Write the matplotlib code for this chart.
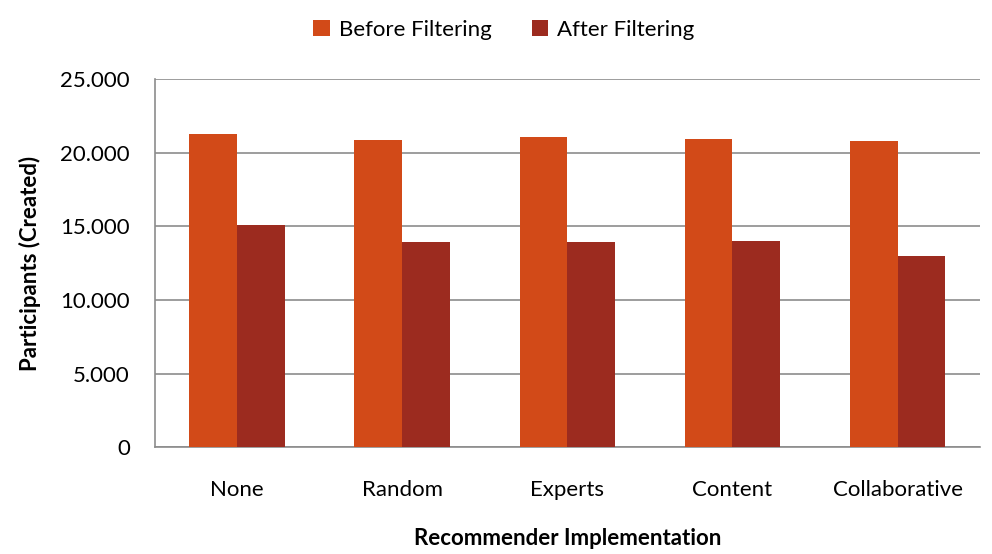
import matplotlib
matplotlib.use("Agg")
import matplotlib.pyplot as plt
from matplotlib.ticker import FuncFormatter
import numpy as np

categories = ["None", "Random", "Experts", "Content", "Collaborative"]
before = [21250, 20850, 21050, 20960, 20800]
after = [15120, 13970, 13970, 14030, 12970]
series_names = ["Before Filtering", "After Filtering"]

plt.rcParams['font.family'] = ['Lato', 'DejaVu Sans']

fig = plt.figure(figsize=(9.92, 5.54), dpi=100)
ax = fig.add_axes([0.156, 0.193, 0.832, 0.664])

x = np.arange(len(categories))
w = 0.29
c1 = "#D24A18"
c2 = "#9C2B1F"
ax.bar(x - w/2, before, w, color=c1, label=series_names[0], zorder=3)
ax.bar(x + w/2, after, w, color=c2, label=series_names[1], zorder=3)

ax.set_xlim(-0.5, len(categories) - 0.5)
ax.set_ylim(0, 25000)
ax.set_yticks(np.arange(0, 25001, 5000))
ax.yaxis.set_major_formatter(FuncFormatter(lambda v, p: f"{int(v):,}".replace(",", ".")))
ax.grid(axis='y', color="#8c8c8c", linewidth=1.2, zorder=0)
ax.set_xticks(x)
ax.set_xticklabels(categories)
ax.tick_params(axis='x', length=0, pad=24, labelsize=16)
ax.tick_params(axis='y', length=0, pad=18, labelsize=16)
for s in ['top', 'right']:
    ax.spines[s].set_visible(False)
for s in ['left', 'bottom']:
    ax.spines[s].set_color("#8c8c8c")
    ax.spines[s].set_linewidth(1.2)

ax.set_ylabel("Participants (Created)", fontsize=16, fontweight='bold', labelpad=14)
ax.set_xlabel("Recommender Implementation", fontsize=16, fontweight='bold', labelpad=20)

fig.legend(loc='upper center', bbox_to_anchor=(0.508, 1.0), ncol=2, frameon=False,
           fontsize=16, handlelength=0.75, handleheight=0.75, handletextpad=0.4, columnspacing=1.8)

fig.savefig("out.png", dpi=100)
